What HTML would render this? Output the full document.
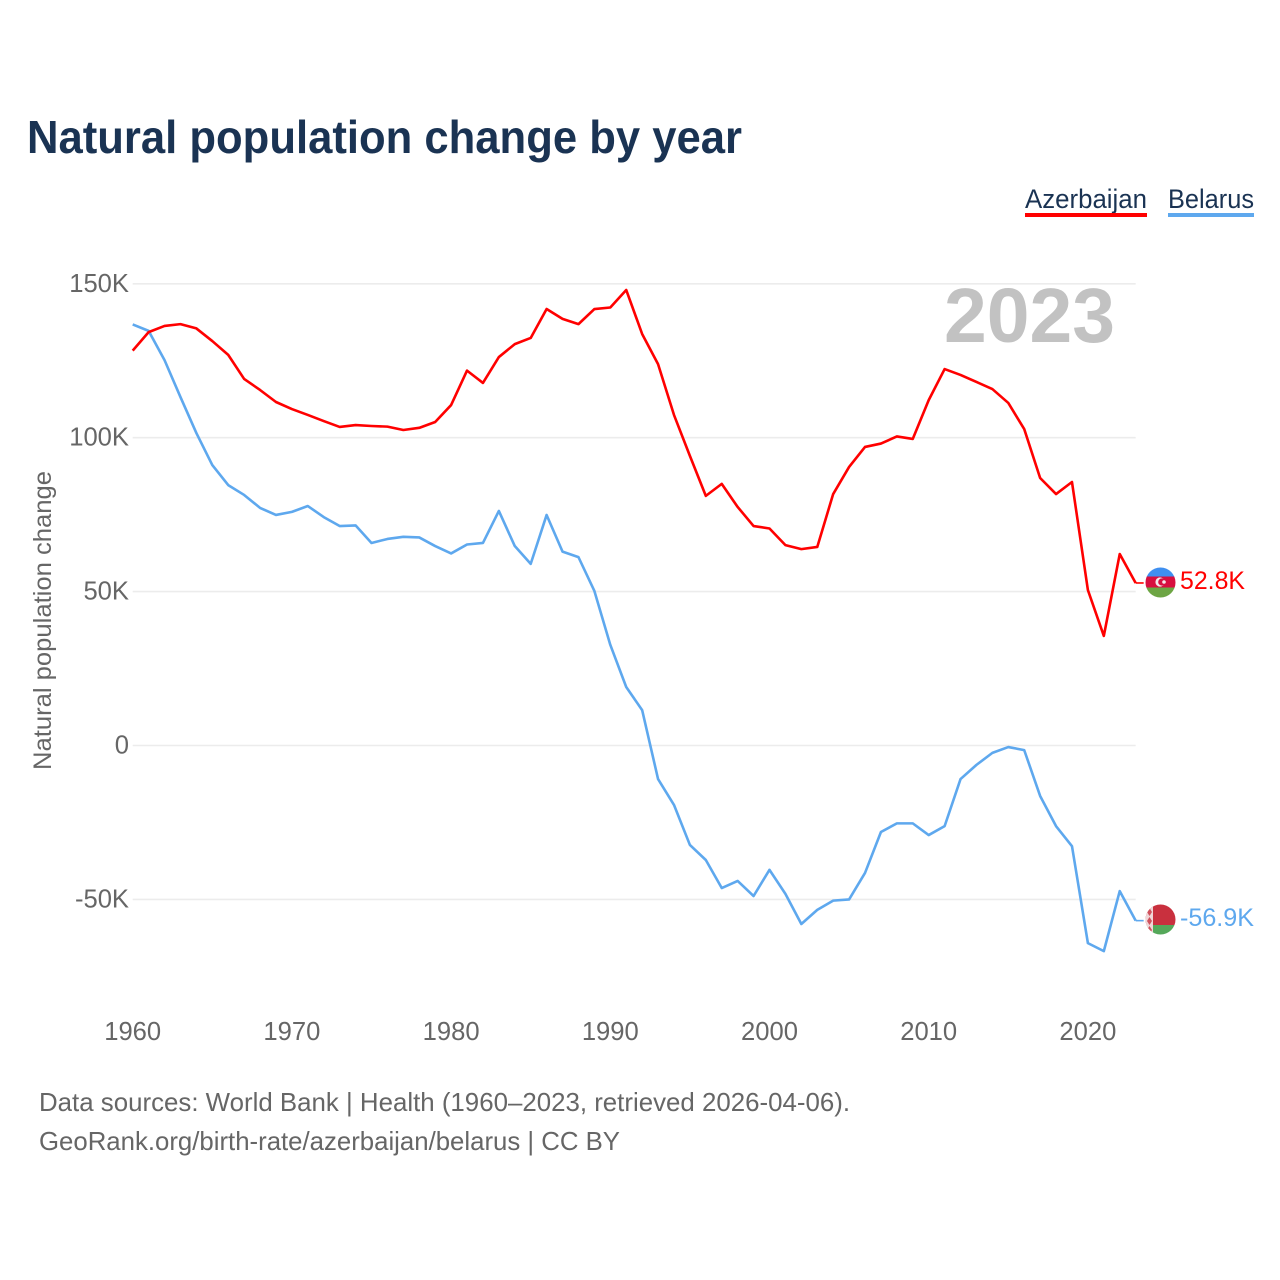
<!DOCTYPE html>
<html lang="en">
<head>
<meta charset="utf-8">
<title>Natural population change by year</title>
<style>
html,body{margin:0;padding:0;background:#fff;width:1280px;height:1280px;overflow:hidden}
svg{display:block}
text{font-family:"Liberation Sans",sans-serif}
</style>
</head>
<body>
<svg id="chart" xmlns="http://www.w3.org/2000/svg" width="1280" height="1280" viewBox="0 0 1280 1280">
  <defs>
    <clipPath id="clip-az"><circle cx="1160.5" cy="582.5" r="15"/></clipPath>
    <clipPath id="clip-by"><circle cx="1160.5" cy="919.5" r="15"/></clipPath>
  </defs>
  <rect x="0" y="0" width="1280" height="1280" fill="#fff"/>
  <text x="27" y="153" font-size="46" font-weight="700" fill="#1a3353" textLength="715" lengthAdjust="spacingAndGlyphs">Natural population change by year</text>

  <g>
    <g>
      <text x="1025" y="208" font-size="27" fill="#1a3353" textLength="122" lengthAdjust="spacingAndGlyphs">Azerbaijan</text>
      <rect x="1025" y="213" width="122" height="4" fill="#ff0000"/>
    </g>
    <g>
      <text x="1168" y="208" font-size="27" fill="#1a3353" textLength="86" lengthAdjust="spacingAndGlyphs">Belarus</text>
      <rect x="1168" y="213" width="86" height="4" fill="#5ea8ee"/>
    </g>
  </g>

  <g id="grid"></g>
  <g id="y-ticks"></g>
  <g id="x-ticks"></g>

  <text x="944" y="342" font-size="77" font-weight="700" fill="#c2c2c2" textLength="171" lengthAdjust="spacingAndGlyphs">2023</text>
  <text transform="translate(51 770) rotate(-90)" font-size="25" fill="#666" textLength="299" lengthAdjust="spacingAndGlyphs">Natural population change</text>

  <g id="series"></g>

  <g clip-path="url(#clip-az)">
    <rect x="1145" y="567" width="31" height="9.5" fill="#3f8ff0"/>
    <rect x="1145" y="576.5" width="31" height="11" fill="#d80f3f"/>
    <rect x="1145" y="587.5" width="31" height="11" fill="#6da544"/>
    <circle cx="1160" cy="582" r="4.6" fill="#f4e8ea"/>
    <circle cx="1161.8" cy="582" r="3.6" fill="#d80f3f"/>
    <circle cx="1164" cy="582" r="1.8" fill="#f4e8ea"/>
  </g>
  <g clip-path="url(#clip-by)">
    <rect x="1145" y="904" width="31" height="21" fill="#c9303e"/>
    <rect x="1145" y="925" width="31" height="11" fill="#55a85a"/>
    <rect x="1145" y="904" width="8" height="32" fill="#f0d6d8"/>
    <path d="M1149.5 908l2.5 4-2.5 4-2.5-4zM1149.5 917l2.5 4-2.5 4-2.5-4zM1149.5 926l2.5 4-2.5 4-2.5-4z" fill="#d0505c"/>
  </g>

  <text x="1180" y="589" font-size="25" fill="#ff0000" textLength="65" lengthAdjust="spacingAndGlyphs">52.8K</text>
  <text x="1180" y="926" font-size="25" fill="#5ea8ee" textLength="74" lengthAdjust="spacingAndGlyphs">-56.9K</text>

  <text x="39" y="1111" font-size="26" fill="#666" textLength="811" lengthAdjust="spacingAndGlyphs">Data sources: World Bank | Health (1960–2023, retrieved 2026-04-06).</text>
  <text x="39" y="1150" font-size="26" fill="#666" textLength="581" lengthAdjust="spacingAndGlyphs">GeoRank.org/birth-rate/azerbaijan/belarus | CC BY</text>
</svg>
<script>
const startYear = 1960;
const xTickYears = [1960, 1970, 1980, 1990, 2000, 2010, 2020];
const yTickValues = [150, 100, 50, 0, -50];
const yTickLabels = ["150K", "100K", "50K", "0", "-50K"];
const azerbaijanValues = [128.3,134.3,136.3,136.9,135.5,131.4,126.9,119.1,115.5,111.6,109.3,107.4,105.4,103.5,104.1,103.8,103.6,102.5,103.2,105.1,110.6,121.8,117.8,126.2,130.4,132.4,141.8,138.6,136.9,141.8,142.3,148.0,133.7,123.9,107.4,94.1,81.1,85.0,77.5,71.3,70.5,65.1,63.8,64.5,81.7,90.5,97.0,98.1,100.4,99.6,112.2,122.3,120.4,118.1,115.8,111.3,102.8,86.9,81.7,85.6,50.5,35.6,62.2,52.8];
const belarusValues = [136.8,134.7,125.2,113.2,101.5,91.1,84.6,81.4,77.2,74.9,75.9,77.8,74.2,71.3,71.5,65.8,67.1,67.8,67.6,64.8,62.4,65.3,65.8,76.2,64.8,59.0,74.9,63.0,61.2,50.2,32.7,19.0,11.5,-10.9,-19.3,-32.3,-37.2,-46.3,-44.0,-48.9,-40.4,-48.2,-58.0,-53.4,-50.4,-50.0,-41.4,-28.1,-25.3,-25.3,-29.1,-26.2,-10.9,-6.3,-2.4,-0.5,-1.5,-16.4,-26.2,-32.7,-64.2,-66.8,-47.3,-56.9];

const SVG_NS = "http://www.w3.org/2000/svg";
const xScale = (year) => 132.7 + (year - 1960) * 15.92;
const yScale = (value) => 745.5 - value * 3.078;

const gridGroup = document.getElementById("grid");
const yTickGroup = document.getElementById("y-ticks");
const xTickGroup = document.getElementById("x-ticks");
const seriesGroup = document.getElementById("series");
const lastYear = startYear + azerbaijanValues.length - 1;

yTickValues.forEach((value, i) => {
  const line = document.createElementNS(SVG_NS, "line");
  
  
  line.setAttribute("x1", xScale(startYear));
  line.setAttribute("x2", xScale(lastYear));
  line.setAttribute("y1", yScale(value));
  line.setAttribute("y2", yScale(value));
  line.setAttribute("stroke", "#ececec");
  line.setAttribute("stroke-width", "1.6");
  gridGroup.appendChild(line);

  const label = document.createElementNS(SVG_NS, "text");
  
  
  label.setAttribute("x", 129);
  label.setAttribute("y", yScale(value) + 8);
  label.setAttribute("text-anchor", "end");
  label.setAttribute("font-size", "25.6");
  label.setAttribute("fill", "#666");
  label.textContent = yTickLabels[i];
  yTickGroup.appendChild(label);
});

xTickYears.forEach((year) => {
  const label = document.createElementNS(SVG_NS, "text");
  
  
  label.setAttribute("x", xScale(year));
  label.setAttribute("y", 1040);
  label.setAttribute("text-anchor", "middle");
  label.setAttribute("font-size", "25.6");
  label.setAttribute("fill", "#666");
  label.textContent = String(year);
  xTickGroup.appendChild(label);
});

function drawSeries(values, color, name) {
  const pts = values.map((v, i) => xScale(startYear + i).toFixed(2) + "," + yScale(v).toFixed(2));
  const line = document.createElementNS(SVG_NS, "polyline");
  
  
  line.setAttribute("points", pts.join(" "));
  line.setAttribute("fill", "none");
  line.setAttribute("stroke", color);
  line.setAttribute("stroke-width", "2.6");
  line.setAttribute("stroke-linejoin", "round");
  seriesGroup.appendChild(line);

  const lastValue = values[values.length - 1];
  const connector = document.createElementNS(SVG_NS, "line");
  
  
  connector.setAttribute("x1", xScale(lastYear));
  connector.setAttribute("x2", xScale(lastYear) + 8);
  connector.setAttribute("y1", yScale(lastValue));
  connector.setAttribute("y2", yScale(lastValue));
  connector.setAttribute("stroke", color);
  connector.setAttribute("stroke-width", "1.6");
  seriesGroup.appendChild(connector);
}

drawSeries(belarusValues, "#5ea8ee", "line-belarus");
drawSeries(azerbaijanValues, "#ff0000", "line-azerbaijan");
</script>
</body>
</html>
